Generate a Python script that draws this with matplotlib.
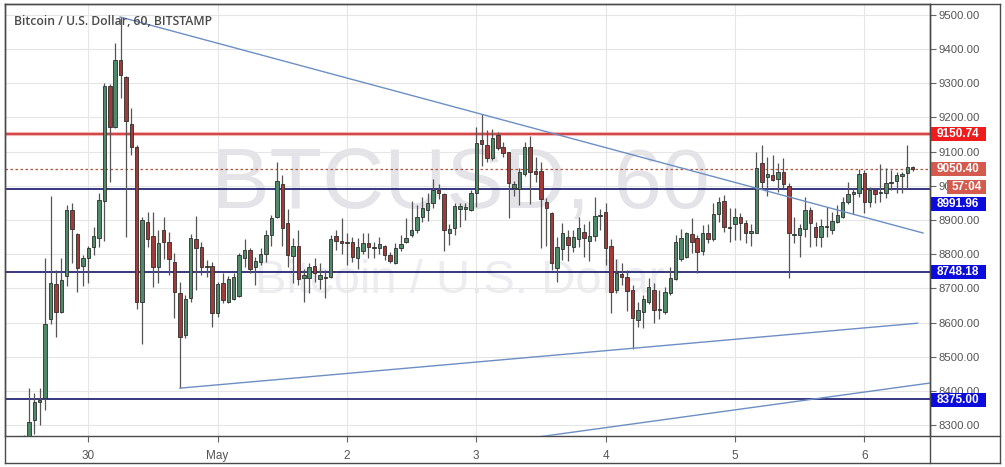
import numpy as np
import matplotlib
matplotlib.use('Agg')
import matplotlib.pyplot as plt
from matplotlib.patches import Rectangle
from matplotlib.lines import Line2D

# hourly candles, index 0 = Apr 29 13:00 (index 11 = Apr 30 00:00)
start_idx = -1
opens = [8240, 8255, 8314, 8368, 8378, 8609, 8713, 8630, 8736, 8929, 8858, 8765, 8788, 8820, 8846, 8956,
         9292, 9173, 9368, 9318, 9180, 9115, 8661, 8893, 8853, 8763, 8871, 8837, 8778, 8685, 8563, 8671,
         8844, 8820, 8765, 8766, 8627, 8717, 8661, 8668, 8677, 8788, 8812, 8763, 8778, 8800, 8856, 8910,
         9005, 8890, 8795, 8824, 8729, 8729, 8765, 8726, 8734, 8734, 8853, 8839, 8837, 8837, 8788, 8810,
         8834, 8820, 8817, 8824, 8797, 8773, 8817, 8837, 8855, 8871, 8908, 8929, 8949, 8988, 8976, 8863,
         8878, 8931, 8932, 8929, 8980, 9134, 9118, 9080, 9149, 9115, 9098, 8995, 8990, 9035, 9115, 9044,
         9044, 8952, 8921, 8760, 8814, 8849, 8820, 8843, 8866, 8839, 8853, 8912, 8924, 8825, 8695, 8742,
         8734, 8695, 8607, 8632, 8661, 8695, 8637, 8632, 8685, 8726, 8785, 8791, 8859, 8846, 8810, 8861,
         8843, 8918, 8955, 8880, 8888, 8910, 8892, 8863, 8863, 9066, 9025, 9032, 9019, 9041, 8999, 8856,
         8856, 8873, 8929, 8880, 8851, 8880, 8871, 8893, 8908, 8952, 8975, 8978, 9037, 8954, 8988, 8978,
         8980, 9007, 9015, 9029, 9037, 9054]
highs = [8272, 8407, 8393, 8407, 8788, 8970, 8754, 8788, 8944, 8951, 8862, 8797, 8824, 8880, 8980, 9300,
         9298, 9419, 9495, 9322, 9229, 9118, 8910, 8924, 8924, 8871, 8908, 8866, 8802, 8719, 8680, 8859,
         8912, 8835, 8782, 8778, 8720, 8744, 8737, 8744, 8804, 8843, 8817, 8793, 8817, 8871, 8915, 9071,
         9032, 8931, 8846, 8871, 8756, 8773, 8788, 8773, 8754, 8856, 8871, 8905, 8861, 8849, 8846, 8863,
         8861, 8837, 8851, 8827, 8806, 8832, 8856, 8905, 8955, 8944, 8966, 8978, 9019, 9005, 8980, 8888,
         8951, 8949, 8951, 8988, 9173, 9209, 9163, 9166, 9157, 9129, 9100, 9014, 9051, 9129, 9147, 9085,
         9071, 8963, 8924, 8849, 8890, 8871, 8871, 8910, 8888, 8897, 8966, 8931, 8949, 8843, 8785, 8773,
         8754, 8710, 8661, 8680, 8729, 8717, 8695, 8705, 8763, 8856, 8873, 8866, 8905, 8856, 8885, 8888,
         8949, 8968, 8973, 8934, 8934, 8920, 8900, 8888, 9100, 9120, 9085, 9090, 9066, 9081, 9007, 8908,
         8888, 8966, 8939, 8895, 8903, 8939, 8924, 8944, 8966, 9012, 8995, 9048, 9046, 8998, 8993, 9064,
         9051, 9046, 9041, 9041, 9120, 9057]
lows = [8220, 8250, 8275, 8300, 8344, 8597, 8557, 8627, 8708, 8773, 8690, 8708, 8716, 8797, 8820, 8839,
        9010, 9168, 9256, 8849, 9090, 8641, 8537, 8820, 8705, 8716, 8785, 8739, 8612, 8407, 8555, 8661,
        8695, 8739, 8734, 8588, 8617, 8656, 8656, 8666, 8675, 8763, 8746, 8710, 8768, 8778, 8824, 8905,
        8824, 8763, 8715, 8710, 8661, 8685, 8720, 8697, 8671, 8729, 8812, 8800, 8768, 8778, 8758, 8800,
        8790, 8790, 8800, 8783, 8773, 8771, 8810, 8834, 8849, 8861, 8895, 8897, 8934, 8961, 8810, 8827,
        8856, 8880, 8900, 8927, 8939, 9059, 9070, 9077, 9105, 9085, 8905, 8971, 8944, 9029, 8947, 9012,
        8817, 8824, 8755, 8719, 8783, 8780, 8807, 8820, 8791, 8780, 8839, 8871, 8768, 8629, 8685, 8710,
        8635, 8524, 8588, 8583, 8654, 8600, 8609, 8624, 8680, 8724, 8780, 8789, 8802, 8746, 8797, 8834,
        8839, 8893, 8866, 8837, 8842, 8842, 8832, 8825, 8861, 8993, 8970, 9015, 8983, 8995, 8729, 8832,
        8793, 8851, 8820, 8825, 8822, 8849, 8859, 8890, 8905, 8946, 8918, 8968, 8920, 8937, 8949, 8954,
        8963, 8988, 8980, 8980, 8990, 9044]
closes = [8255, 8310, 8368, 8373, 8597, 8715, 8630, 8724, 8929, 8873, 8761, 8788, 8817, 8853, 8958, 9292,
          9171, 9368, 9324, 9190, 9115, 8661, 8900, 8844, 8763, 8832, 8837, 8785, 8688, 8557, 8669, 8846,
          8819, 8763, 8763, 8627, 8713, 8666, 8726, 8734, 8797, 8812, 8758, 8781, 8800, 8856, 8905, 9014,
          8878, 8797, 8824, 8727, 8739, 8763, 8744, 8739, 8729, 8843, 8839, 8832, 8832, 8793, 8820, 8834,
          8822, 8817, 8830, 8797, 8781, 8817, 8829, 8848, 8871, 8908, 8934, 8949, 8988, 8978, 8871, 8875,
          8941, 8941, 8939, 8980, 9126, 9122, 9080, 9141, 9112, 9097, 9009, 9005, 9041, 9115, 9039, 9035,
          8960, 8934, 8773, 8822, 8863, 8827, 8851, 8878, 8846, 8853, 8912, 8912, 8817, 8690, 8746, 8732,
          8693, 8612, 8637, 8668, 8705, 8637, 8639, 8690, 8729, 8837, 8846, 8861, 8837, 8807, 8861, 8843,
          8917, 8952, 8880, 8878, 8910, 8890, 8863, 8869, 9051, 9012, 9034, 9017, 9041, 9005, 8863, 8858,
          8876, 8929, 8892, 8851, 8883, 8883, 8898, 8915, 8952, 8976, 8981, 9034, 8954, 8988, 8976, 8980,
          9007, 9012, 9032, 9034, 9054, 9050]

day_ticks = [11, 35, 59, 83, 107, 131, 155]
day_labels = ['30', 'May', '2', '3', '4', '5', '6']
price_ticks = list(range(8300, 9501, 100))

red_level = 9150.74
last_price = 9050.40
blue_levels = [8991.96, 8748.18, 8375.00]

# trend lines (candle index, price)
trend_down = ([16.9, 165.9], [9494, 8862])
trend_up = ([28.0, 164.9], [8408, 8598])
trend_low = ([93.0, 167.2], [8262, 8423])

W, H = 1005, 467
fig = plt.figure(figsize=(W / 100, H / 100), dpi=100)
fig.patch.set_facecolor('white')
ax = fig.add_axes([5 / W, 31 / H, 925 / W, 432 / H])

x = np.arange(start_idx, start_idx + len(opens))
o = np.array(opens, float)
c = np.array(closes, float)
hi = np.array(highs, float)
lo = np.array(lows, float)
up = c >= o
body_col = np.where(up, '#4f8a68', '#a23b37')
bottom = np.minimum(o, c)
height = np.maximum(np.abs(c - o), 2.5)

ax.vlines(x, lo, hi, color='#555555', lw=0.9, zorder=3)
ax.bar(x, height, bottom=bottom, width=0.64, color=body_col,
       edgecolor='#2e2e2e', linewidth=0.6, zorder=4)

# horizontal levels
ax.axhline(red_level, color='#f3b5b5', lw=3, zorder=2)
ax.axhline(red_level, color='#c62828', lw=1.1, zorder=2)
for lv in blue_levels:
    ax.axhline(lv, color='#15156b', lw=1.2, zorder=2)
ax.axhline(last_price, color='#b5523c', lw=0.9, ls=(0, (2, 2)), zorder=2)

for xs, ys in (trend_down, trend_up, trend_low):
    ax.plot(xs, ys, color='#6d8fc4', lw=1.0, zorder=5)

# watermark
ax.text(0.493, 0.528, 'BTCUSD, 60', transform=ax.transAxes, ha='center', va='baseline',
        fontsize=62, color='#e3e3e8', family='Liberation Sans', zorder=0)
ax.text(0.492, 0.331, 'Bitcoin / U.S. Dollar', transform=ax.transAxes, ha='center', va='baseline',
        fontsize=34, color='#ececf1', family='Liberation Sans', zorder=0)

ax.text(9 / 925, 1 - 17 / 432, 'Bitcoin / U.S. Dollar, 60, BITSTAMP', transform=ax.transAxes,
        ha='left', va='center', fontsize=8.8, color='#4a4a4a', family='Open Sans',
        fontweight='semibold', zorder=6)

ax.set_xlim(-4.45, 167.2)
ax.set_ylim(8268, 9532)
ax.set_xticks(day_ticks)
ax.set_xticklabels(day_labels)
ax.set_yticks(price_ticks)
ax.set_yticklabels(['%.2f' % p for p in price_ticks])
ax.yaxis.tick_right()
ax.tick_params(axis='y', direction='out', length=4, width=0.8, color='#666', pad=2,
               labelsize=8.2, labelcolor='#555')
ax.tick_params(axis='x', direction='out', length=4, width=0.8, color='#666', pad=6,
               labelsize=8.5, labelcolor='#555')
for lab in ax.get_xticklabels() + ax.get_yticklabels():
    lab.set_family('Liberation Sans')
ax.grid(True, color='#e6e6e6', lw=0.8, zorder=0)
ax.set_axisbelow(True)
for s in ax.spines.values():
    s.set_color('#4a4a4a')
    s.set_linewidth(1.0)

# price label boxes on the right scale
ytr = ax.get_yaxis_transform()
box_h = 14 * (9532 - 8268) / 432
bw = 56 / 925
boxes = [
    (0.0, red_level, '9150.74', '#ee1c1c'),
    (0.0, last_price, '9050.40', '#d45a4e'),
    (17 / 925, 8996.6, '57:04', '#d45a4e'),
    (0.0, 8947.7, '8991.96', '#0b0bdc'),
    (0.0, 8748.18, '8748.18', '#0b0bdc'),
    (0.0, 8373.0, '8375.00', '#0b0bdc'),
]
for dx, yc, txt, col in boxes:
    x0 = 1.0 + dx
    ax.add_patch(Rectangle((x0, yc - box_h / 2), 1.0 + bw - x0, box_h, transform=ytr,
                           facecolor=col, edgecolor='none', clip_on=False, zorder=7))
    ax.text((x0 + 1.0 + bw) / 2, yc, txt, transform=ytr, ha='center', va='center',
            fontsize=8.5, color='white', fontweight='bold', family='Liberation Sans',
            clip_on=False, zorder=8)

# outer frame
frame = dict(color='#4a4a4a', lw=1.0, transform=fig.transFigure)
fx = lambda px: px / W
fy = lambda py: 1 - py / H
fig.add_artist(Line2D([fx(5), fx(1000)], [fy(463), fy(463)], **frame))
fig.add_artist(Line2D([fx(1000), fx(1000)], [fy(4), fy(463)], **frame))
fig.add_artist(Line2D([fx(5), fx(1000)], [fy(4), fy(4)], **frame))
fig.add_artist(Line2D([fx(5), fx(5)], [fy(4), fy(463)], **frame))
fig.add_artist(Line2D([fx(930), fx(930)], [fy(4), fy(463)], **frame))
fig.add_artist(Line2D([fx(930), fx(1000)], [fy(436), fy(436)], **frame))

fig.savefig('out.png', dpi=100)
